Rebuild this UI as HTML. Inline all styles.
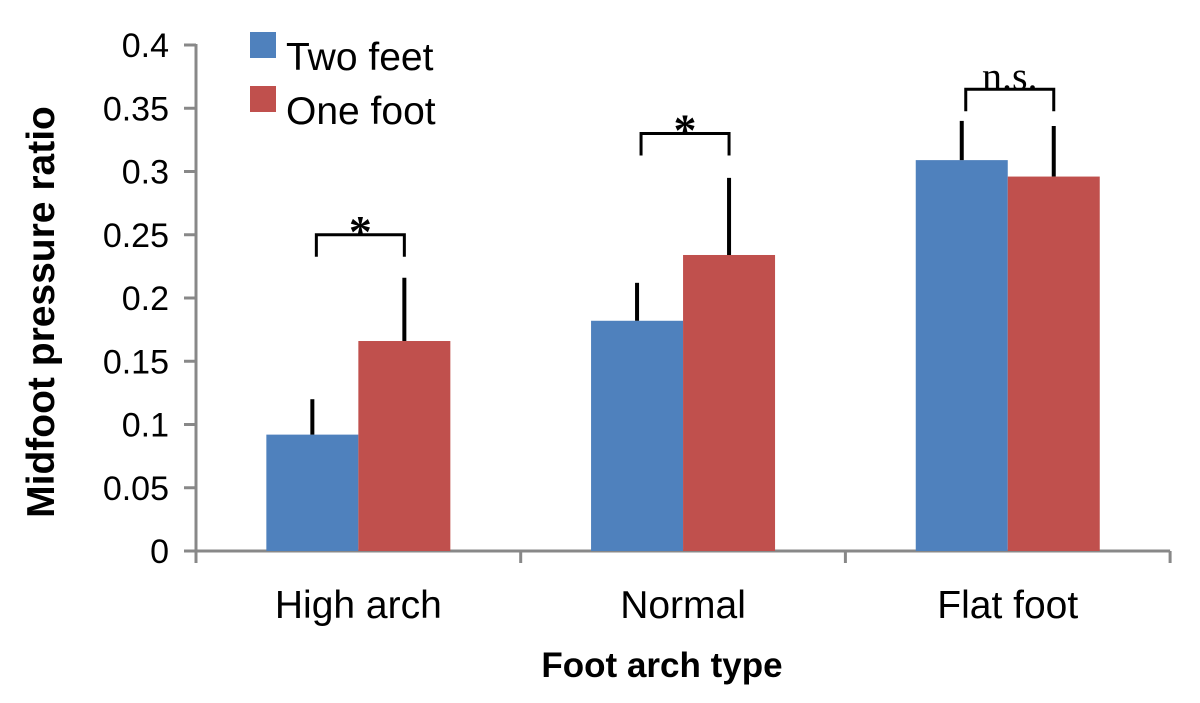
<!DOCTYPE html>
<html><head><meta charset="utf-8"><style>
body{margin:0;background:#fff}
svg text{font-family:"Liberation Sans",Arial,sans-serif}
</style></head><body>
<svg width="1200" height="698" viewBox="0 0 1200 698" xmlns="http://www.w3.org/2000/svg">
<g id="yticks"></g>
<g id="xaxis"></g>
<g id="bars"></g>
<g id="sig"></g>
<text x="54" y="312" transform="rotate(-90 54 312)" text-anchor="middle" font-size="39" font-weight="bold">Midfoot pressure ratio</text>
<text x="662" y="677" text-anchor="middle" font-size="35" font-weight="bold">Foot arch type</text>
<g>
<rect x="250" y="32" width="26" height="26" fill="#4f81bd"/>
<text x="286" y="70" font-size="39">Two feet</text>
<rect x="250" y="86" width="26" height="26" fill="#c0504d"/>
<text x="286" y="124" font-size="39">One foot</text>
</g>
</svg>
<script>
const categories=["High arch","Normal","Flat foot"];
const twoFeet=[0.092,0.182,0.309];
const oneFoot=[0.166,0.234,0.296];
const twoFeetErr=[0.028,0.030,0.031];
const oneFootErr=[0.050,0.061,0.040];
const yTicks=[0,0.05,0.1,0.15,0.2,0.25,0.3,0.35,0.4];
const yTickLabels=["0","0.05","0.1","0.15","0.2","0.25","0.3","0.35","0.4"];
const sigLabels=["*","*","n.s."];
const sigLevels=[0.25,0.33,0.365];

const NS="http://www.w3.org/2000/svg";
const y0=551,yPer=(551-45)/0.4;
const ys=v=>y0-v*yPer;
const x0=196,catW=324.7;
const xc=i=>x0+catW*(i+0.5);
function mk(t,a,p){const e=document.createElementNS(NS,t);for(const k in a)e.setAttribute(k,a[k]);p.appendChild(e);return e;}
const gy=document.getElementById('yticks');
mk('line',{x1:x0,y1:44,x2:x0,y2:y0+1,stroke:'#888',"stroke-width":3},gy);
yTicks.forEach((v,i)=>{
  const l=mk('line',{x1:184,y1:ys(v),x2:x0,y2:ys(v),stroke:'#888',"stroke-width":3},gy);
  
  
  const t=mk('text',{x:169,y:ys(v)+12,"text-anchor":"end","font-size":34},gy);
  t.textContent=yTickLabels[i];
  
  
});
const gx=document.getElementById('xaxis');
mk('line',{x1:x0-12,y1:y0,x2:x0+catW*3,y2:y0,stroke:'#888',"stroke-width":3},gx);
for(let i=0;i<=3;i++){const l=mk('line',{x1:x0+catW*i,y1:y0,x2:x0+catW*i,y2:563,stroke:'#888',"stroke-width":3},gx);
  
  }
categories.forEach((c,i)=>{const t=mk('text',{x:xc(i),y:618,"text-anchor":"middle","font-size":39},gx);t.textContent=c;
  
  });
const gb=document.getElementById('bars');
const bw=92;
categories.forEach((c,i)=>{
  const xb=xc(i)-bw, xr=xc(i);
  const b1=mk('rect',{x:xb,y:ys(twoFeet[i]),width:bw,height:y0-ys(twoFeet[i]),fill:'#4f81bd'},gb);
  
  
  const b2=mk('rect',{x:xr,y:ys(oneFoot[i]),width:bw,height:y0-ys(oneFoot[i]),fill:'#c0504d'},gb);
  
  
  const e1=mk('line',{x1:xb+bw/2,y1:ys(twoFeet[i]),x2:xb+bw/2,y2:ys(twoFeet[i]+twoFeetErr[i]),stroke:'#000',"stroke-width":4},gb);
  
  
  const e2=mk('line',{x1:xr+bw/2,y1:ys(oneFoot[i]),x2:xr+bw/2,y2:ys(oneFoot[i]+oneFootErr[i]),stroke:'#000',"stroke-width":4},gb);
  
  
});
const gs=document.getElementById('sig');
categories.forEach((c,i)=>{
  const l=xc(i)-bw/2+4, r=xc(i)+bw/2, t=ys(sigLevels[i]);
  const p=mk('path',{d:`M${l},${t+22} V${t} H${r} V${t+22}`,fill:'none',stroke:'#000',"stroke-width":3},gs);
  
  
  const star=sigLabels[i]==="*";
  const tx=mk('text',{x:(l+r)/2,y:star?t+12:t,"text-anchor":"middle","font-size":star?46:40,"font-weight":star?"bold":"normal",style:'font-family:"Liberation Serif",serif'},gs);
  tx.textContent=sigLabels[i];
  
  
});
</script>
</body></html>
